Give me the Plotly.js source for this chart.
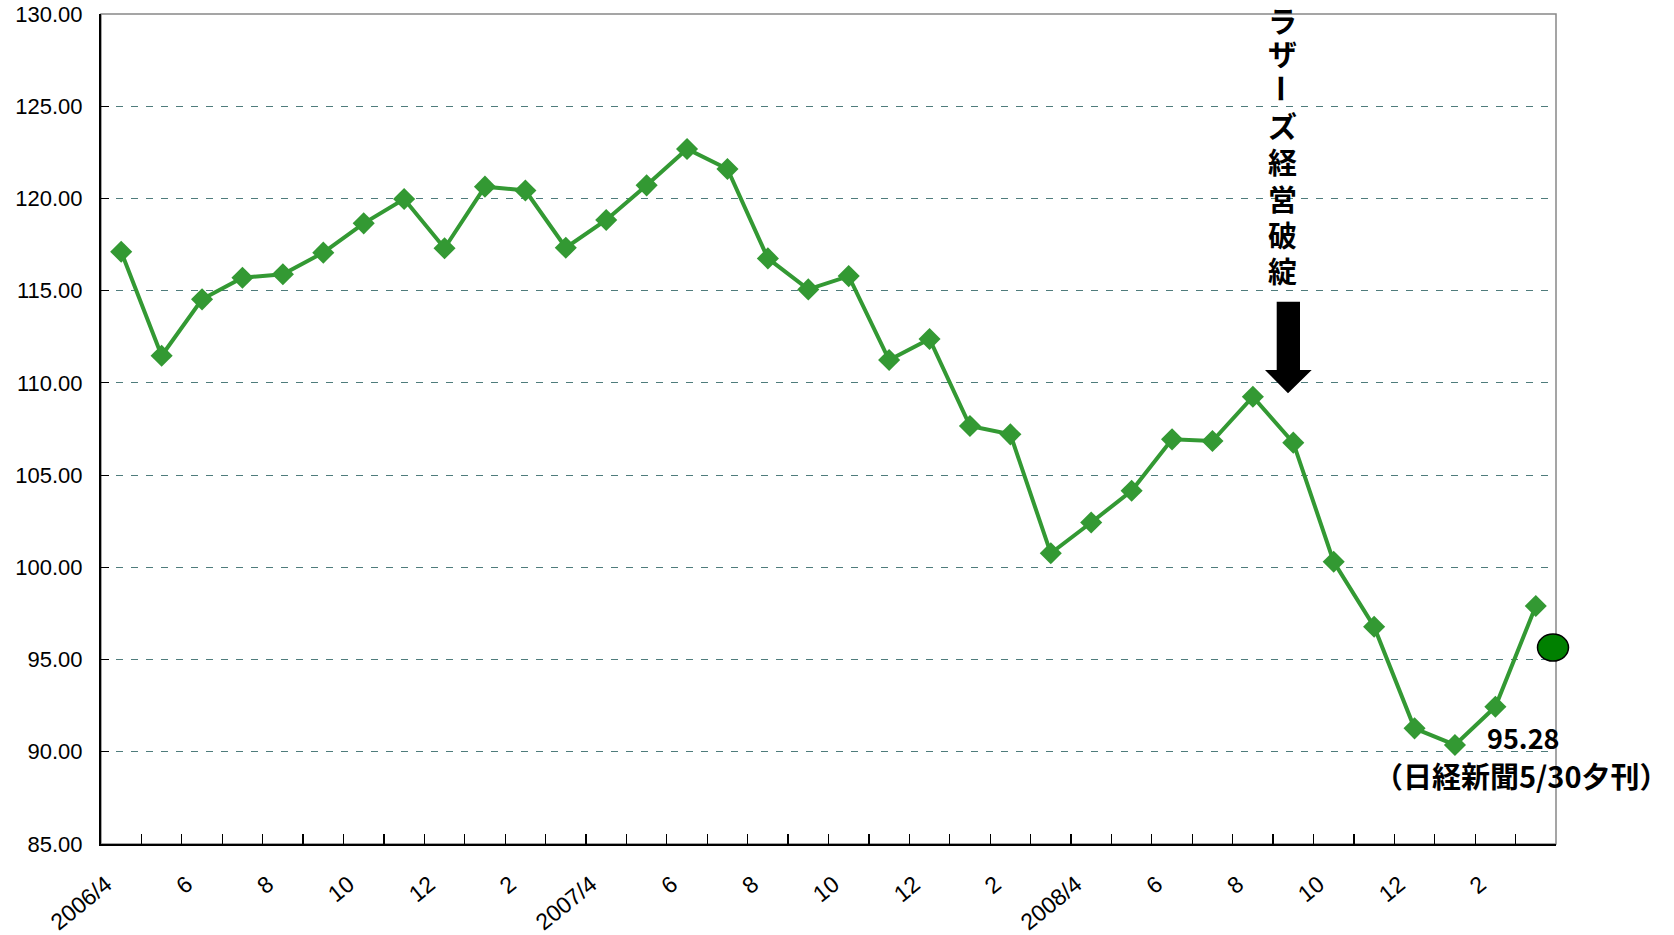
<!DOCTYPE html>
<html>
<head>
<meta charset="utf-8">
<script src="https://cdn.plot.ly/plotly-3.0.1.min.js"></script>
<style>html,body{margin:0;padding:0;background:#fff;}#chart{width:1674px;height:935px;}</style>
</head>
<body>
<div id="chart"></div>
<script>
// Monthly categories 2006/4 .. 2009/3
const months = [
  "2006/4","2006/5","2006/6","2006/7","2006/8","2006/9","2006/10","2006/11","2006/12","2007/1","2007/2","2007/3",
  "2007/4","2007/5","2007/6","2007/7","2007/8","2007/9","2007/10","2007/11","2007/12","2008/1","2008/2","2008/3",
  "2008/4","2008/5","2008/6","2008/7","2008/8","2008/9","2008/10","2008/11","2008/12","2009/1","2009/2","2009/3"
];
const tickLabels = [
  "2006/4","","6","","8","","10","","12","","2","",
  "2007/4","","6","","8","","10","","12","","2","",
  "2008/4","","6","","8","","10","","12","","2",""
];
const rates = [
  117.11,111.47,114.53,115.70,115.89,117.06,118.65,119.97,117.30,120.64,120.43,117.33,
  118.83,120.71,122.68,121.60,116.75,115.07,115.79,111.24,112.38,107.66,107.21,100.76,
  102.43,104.15,106.94,106.85,109.25,106.76,100.30,96.78,91.27,90.37,92.44,97.90
];
const eventLabel = "ラザーズ経営破綻";
const latestValueText = "95.28";
const latestSourceText = "（日経新聞5/30夕刊）";
const latestMarkerValue = 95.65;

// plot area geometry (pixels)
const W = 1674, H = 935;
const L = 101, R = 1556, T = 14, B = 844;
const px = x => (x - L) / (R - L);
const py = y => (B - y) / (B - T);

const trace = {
  x: months, y: rates, type: 'scatter', mode: 'lines+markers',
  line: {color: '#339933', width: 4},
  marker: {symbol: 'diamond', size: 17, color: '#339933'},
  hoverinfo: 'x+y', showlegend: false
};

const annotations = [];
const charCenters = [20, 53, 88, 125, 161, 198, 234, 270];
Array.from(eventLabel).forEach((ch, i) => {
  annotations.push({
    text: ch, xref: 'paper', yref: 'paper',
    x: px(1282), y: py(charCenters[i]), xanchor: 'center', yanchor: 'middle',
    showarrow: false, textangle: ch === 'ー' ? 90 : 0,
    font: {family: '"Noto Sans CJK JP", sans-serif', size: 29, color: '#000', weight: 'bold'}
  });
});
annotations.push({
  text: latestValueText,
  xref: 'paper', yref: 'paper', x: px(1523), y: py(737), xanchor: 'center', yanchor: 'middle',
  showarrow: false,
  font: {family: '"Noto Sans CJK JP", sans-serif', size: 27, color: '#000', weight: 'bold'}
});
annotations.push({
  text: latestSourceText,
  xref: 'paper', yref: 'paper', x: px(1521), y: py(775), xanchor: 'center', yanchor: 'middle',
  showarrow: false,
  font: {family: '"Noto Sans CJK JP", sans-serif', size: 29, color: '#000', weight: 'bold'}
});

const P = (x, y) => px(x) + ',' + py(y);
const arrowPath = 'M' + P(1276.7, 301.7) + ' L' + P(1300, 301.7) + ' L' + P(1300, 370) + ' L' + P(1311.7, 370) +
  ' L' + P(1288, 393.3) + ' L' + P(1265, 370) + ' L' + P(1276.7, 370) + ' Z';

const shapes = [
  {type: 'rect', xref: 'paper', yref: 'paper', x0: 0, x1: 1, y0: 0, y1: 1,
   line: {color: '#888888', width: 1.5}, layer: 'below'},
  {type: 'path', xref: 'paper', yref: 'paper', path: arrowPath,
   fillcolor: '#000', line: {color: '#000', width: 0}},
  {type: 'circle', xref: 'paper', yref: 'y', xsizemode: 'pixel', ysizemode: 'pixel',
   xanchor: px(1553), yanchor: latestMarkerValue, x0: -15.5, x1: 15.5, y0: -13.5, y1: 13.5,
   fillcolor: '#008000', line: {color: '#000', width: 1.5}}
];

const layout = {
  width: W, height: H,
  margin: {l: L, r: W - R, t: T, b: H - B, pad: 0},
  paper_bgcolor: '#fff', plot_bgcolor: '#fff',
  font: {family: '"Liberation Sans", Arial, sans-serif', color: '#000'},
  xaxis: {
    type: 'category', categoryorder: 'array', categoryarray: months,
    range: [-0.5, months.length - 0.5], autorange: false,
    tickmode: 'array', tickvals: months, ticktext: tickLabels,
    tickson: 'boundaries', ticks: 'inside', ticklen: 10, tickwidth: 1.2, tickcolor: '#000',
    tickangle: -39, tickfont: {size: 23, family: '"Liberation Sans", Arial, sans-serif'},
    ticklabelstandoff: 16, ticklabelshift: -15,
    showline: true, linecolor: '#000', linewidth: 2,
    showgrid: false, zeroline: false, fixedrange: true
  },
  yaxis: {
    range: [85, 130], autorange: false, dtick: 5, tick0: 85, tickformat: '.2f',
    ticks: 'inside', ticklen: 8, tickwidth: 1.2, tickcolor: '#000',
    tickfont: {size: 22, family: '"Liberation Sans", Arial, sans-serif'},
    ticklabelstandoff: 12,
    showline: true, linecolor: '#000', linewidth: 2,
    showgrid: true, gridcolor: '#4f7c7c', gridwidth: 1, griddash: '7px,8px',
    zeroline: false, fixedrange: true
  },
  annotations: annotations,
  shapes: shapes,
  showlegend: false
};

Plotly.newPlot('chart', [trace], layout, {displayModeBar: false, staticPlot: true});
</script>
</body>
</html>
